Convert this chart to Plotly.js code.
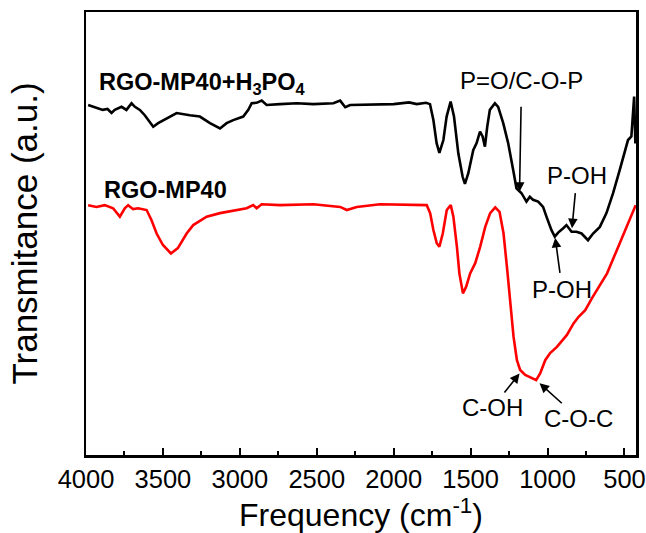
<!DOCTYPE html>
<html>
<head>
<meta charset="utf-8">
<script src="https://cdn.plot.ly/plotly-3.0.1.min.js"></script>
<style>html,body{margin:0;padding:0;background:#fff;}#chart{width:646px;height:533px;}</style>
</head>
<body>
<div id="chart"></div>
<script>
// Wavenumbers (cm^-1) and transmittance (a.u.)
const wnAcid = [3986,3932,3891,3860,3834,3813,3769,3737,3704,3682,3650,3618,3596,3563,3531,3476,3411,3325,3260,3194,3129,3086,3043,2978,2945,2923,2891,2858,2826,2739,2630,2522,2392,2348,2315,2283,2089,2000,1900,1850,1790,1764,1742,1721,1703,1677,1656,1630,1608,1580,1552,1537,1515,1483,1461,1439,1422,1407,1392,1375,1342,1321,1288,1256,1223,1202,1169,1137,1115,1094,1061,1029,1007,975,953,931,898,877,844,812,779,737,704,660,617,574,531,498,477,455,444,437,429];
const tAcid = [79.0,78.3,77.9,78.1,77.2,77.9,78.6,77.9,79.4,78.6,77.9,76.7,75.6,74.1,74.9,76.0,77.2,76.7,76.4,74.9,73.7,74.9,75.6,76.4,77.9,79.4,79.5,80.0,79.0,79.2,79.4,79.2,79.4,80.0,78.5,79.0,79.2,79.2,79.6,79.2,79.5,79.2,75.6,70.4,68.2,71.1,76.4,79.8,76.4,68.1,62.8,61.2,63.6,68.8,70.4,73.0,71.9,69.6,74.1,77.9,79.4,78.6,74.9,70.4,64.3,60.2,59.1,57.2,58.3,57.6,57.2,56.0,53.8,50.8,49.3,50.2,51.2,51.9,50.4,50.4,50.0,48.5,50.0,51.5,54.6,59.1,64.3,68.8,71.1,71.9,77.9,80.9,70.3];

const wnBase = [3986,3932,3878,3824,3780,3748,3726,3694,3661,3606,3574,3541,3500,3448,3403,3346,3303,3216,3129,3021,2956,2913,2891,2858,2739,2522,2348,2305,2240,2089,1785,1763,1742,1720,1703,1681,1655,1629,1612,1589,1573,1550,1529,1503,1470,1438,1405,1373,1340,1312,1286,1264,1243,1221,1199,1178,1145,1101,1074,1048,1015,983,939,874,831,798,755,711,679,613,549,484,427];
const tBase = [56.4,56.0,56.4,55.7,53.8,55.7,56.4,55.5,55.7,55.3,53.0,50.0,47.4,45.5,46.7,50.0,51.9,53.8,54.6,55.3,55.7,56.4,55.7,56.6,56.4,56.6,56.0,55.3,56.0,56.6,56.4,54.6,50.8,47.8,47.0,50.0,55.3,56.4,53.8,47.0,41.0,36.5,38.0,41.0,43.3,47.0,51.5,54.6,55.9,54.9,50.0,42.5,35.0,26.7,21.4,19.2,18.1,17.3,16.9,18.4,21.4,23.0,24.4,27.1,29.7,31.2,32.7,35.4,37.2,41.0,46.3,51.5,56.4];

const seriesNames = ['RGO-MP40+H<sub>3</sub>PO<sub>4</sub>', 'RGO-MP40'];
const xTickVals = [4000,3500,3000,2500,2000,1500,1000,500];

const FONT = 'Arial, "Liberation Sans", sans-serif';

const traces = [
  {x: wnAcid, y: tAcid, type: 'scatter', mode: 'lines', name: seriesNames[0],
   line: {color: '#000000', width: 2.6}, hoverinfo: 'skip'},
  {x: wnBase, y: tBase, type: 'scatter', mode: 'lines', name: seriesNames[1],
   line: {color: '#ff0000', width: 2.6}, hoverinfo: 'skip'}
];

function txt(x, y, t, size, xanchor) {
  return {x: x, y: y, xref: 'x', yref: 'y', text: '<b>' + t + '</b>',
    showarrow: false, xanchor: xanchor || 'center', yanchor: 'middle',
    font: {family: FONT, size: size, color: '#000'}};
}
// label with an arrow: (x, y) is the arrow head, (ax, ay) the pixel offset of the label centre
function label(x, y, t, ax, ay, sst) {
  return {x: x, y: y, xref: 'x', yref: 'y', text: t, showarrow: true,
    axref: 'pixel', ayref: 'pixel', ax: ax, ay: ay,
    font: {family: FONT, size: 24, color: '#000'},
    arrowhead: 2, arrowsize: 1.2, arrowwidth: 1.6, arrowcolor: '#000',
    standoff: 0, startstandoff: sst || 0};
}

const annotations = [
  txt(3930, 83.8, seriesNames[0], 23.5, 'left'),
  txt(3897, 59.8, seriesNames[1], 23.5, 'left'),
  label(1182, 59.4, 'P=O/C-O-P', 2, -111, 11),
  label(841, 51.2, 'P-OH', 5, -53, 3),
  label(950, 49.0, 'P-OH', 7, 52, 2),
  label(1182, 18.4, 'C-OH', -27, 34, 0),
  label(1052, 16.2, 'C-O-C', 39, 35, 0)
];

const layout = {
  width: 646, height: 533,
  margin: {l: 86, r: 10, t: 12, b: 78},
  paper_bgcolor: '#ffffff', plot_bgcolor: '#ffffff',
  showlegend: false,
  font: {family: FONT, color: '#000'},
  xaxis: {
    range: [4000, 425], tickvals: xTickVals, ticks: 'inside', ticklen: 7, tickwidth: 2,
    tickcolor: '#000', showgrid: false, zeroline: false,
    showline: true, linecolor: '#000', linewidth: 2.5, mirror: true,
    minor: {dtick: 250, ticks: 'inside', ticklen: 4, tickwidth: 2, tickcolor: '#000'},
    tickfont: {family: FONT, size: 25.5, color: '#000'},
    title: {text: 'Frequency (cm<sup>-1</sup>)', font: {family: FONT, size: 32, color: '#000'}, standoff: 8}
  },
  yaxis: {
    range: [0, 100], showticklabels: false, ticks: '', showgrid: false, zeroline: false,
    showline: true, linecolor: '#000', linewidth: 2.5, mirror: true,
    title: {text: 'Transmitance (a.u.)', font: {family: FONT, size: 35, color: '#000'}, standoff: 36}
  },
  annotations: annotations
};

Plotly.newPlot('chart', traces, layout, {displayModeBar: false, staticPlot: true});
</script>
</body>
</html>
